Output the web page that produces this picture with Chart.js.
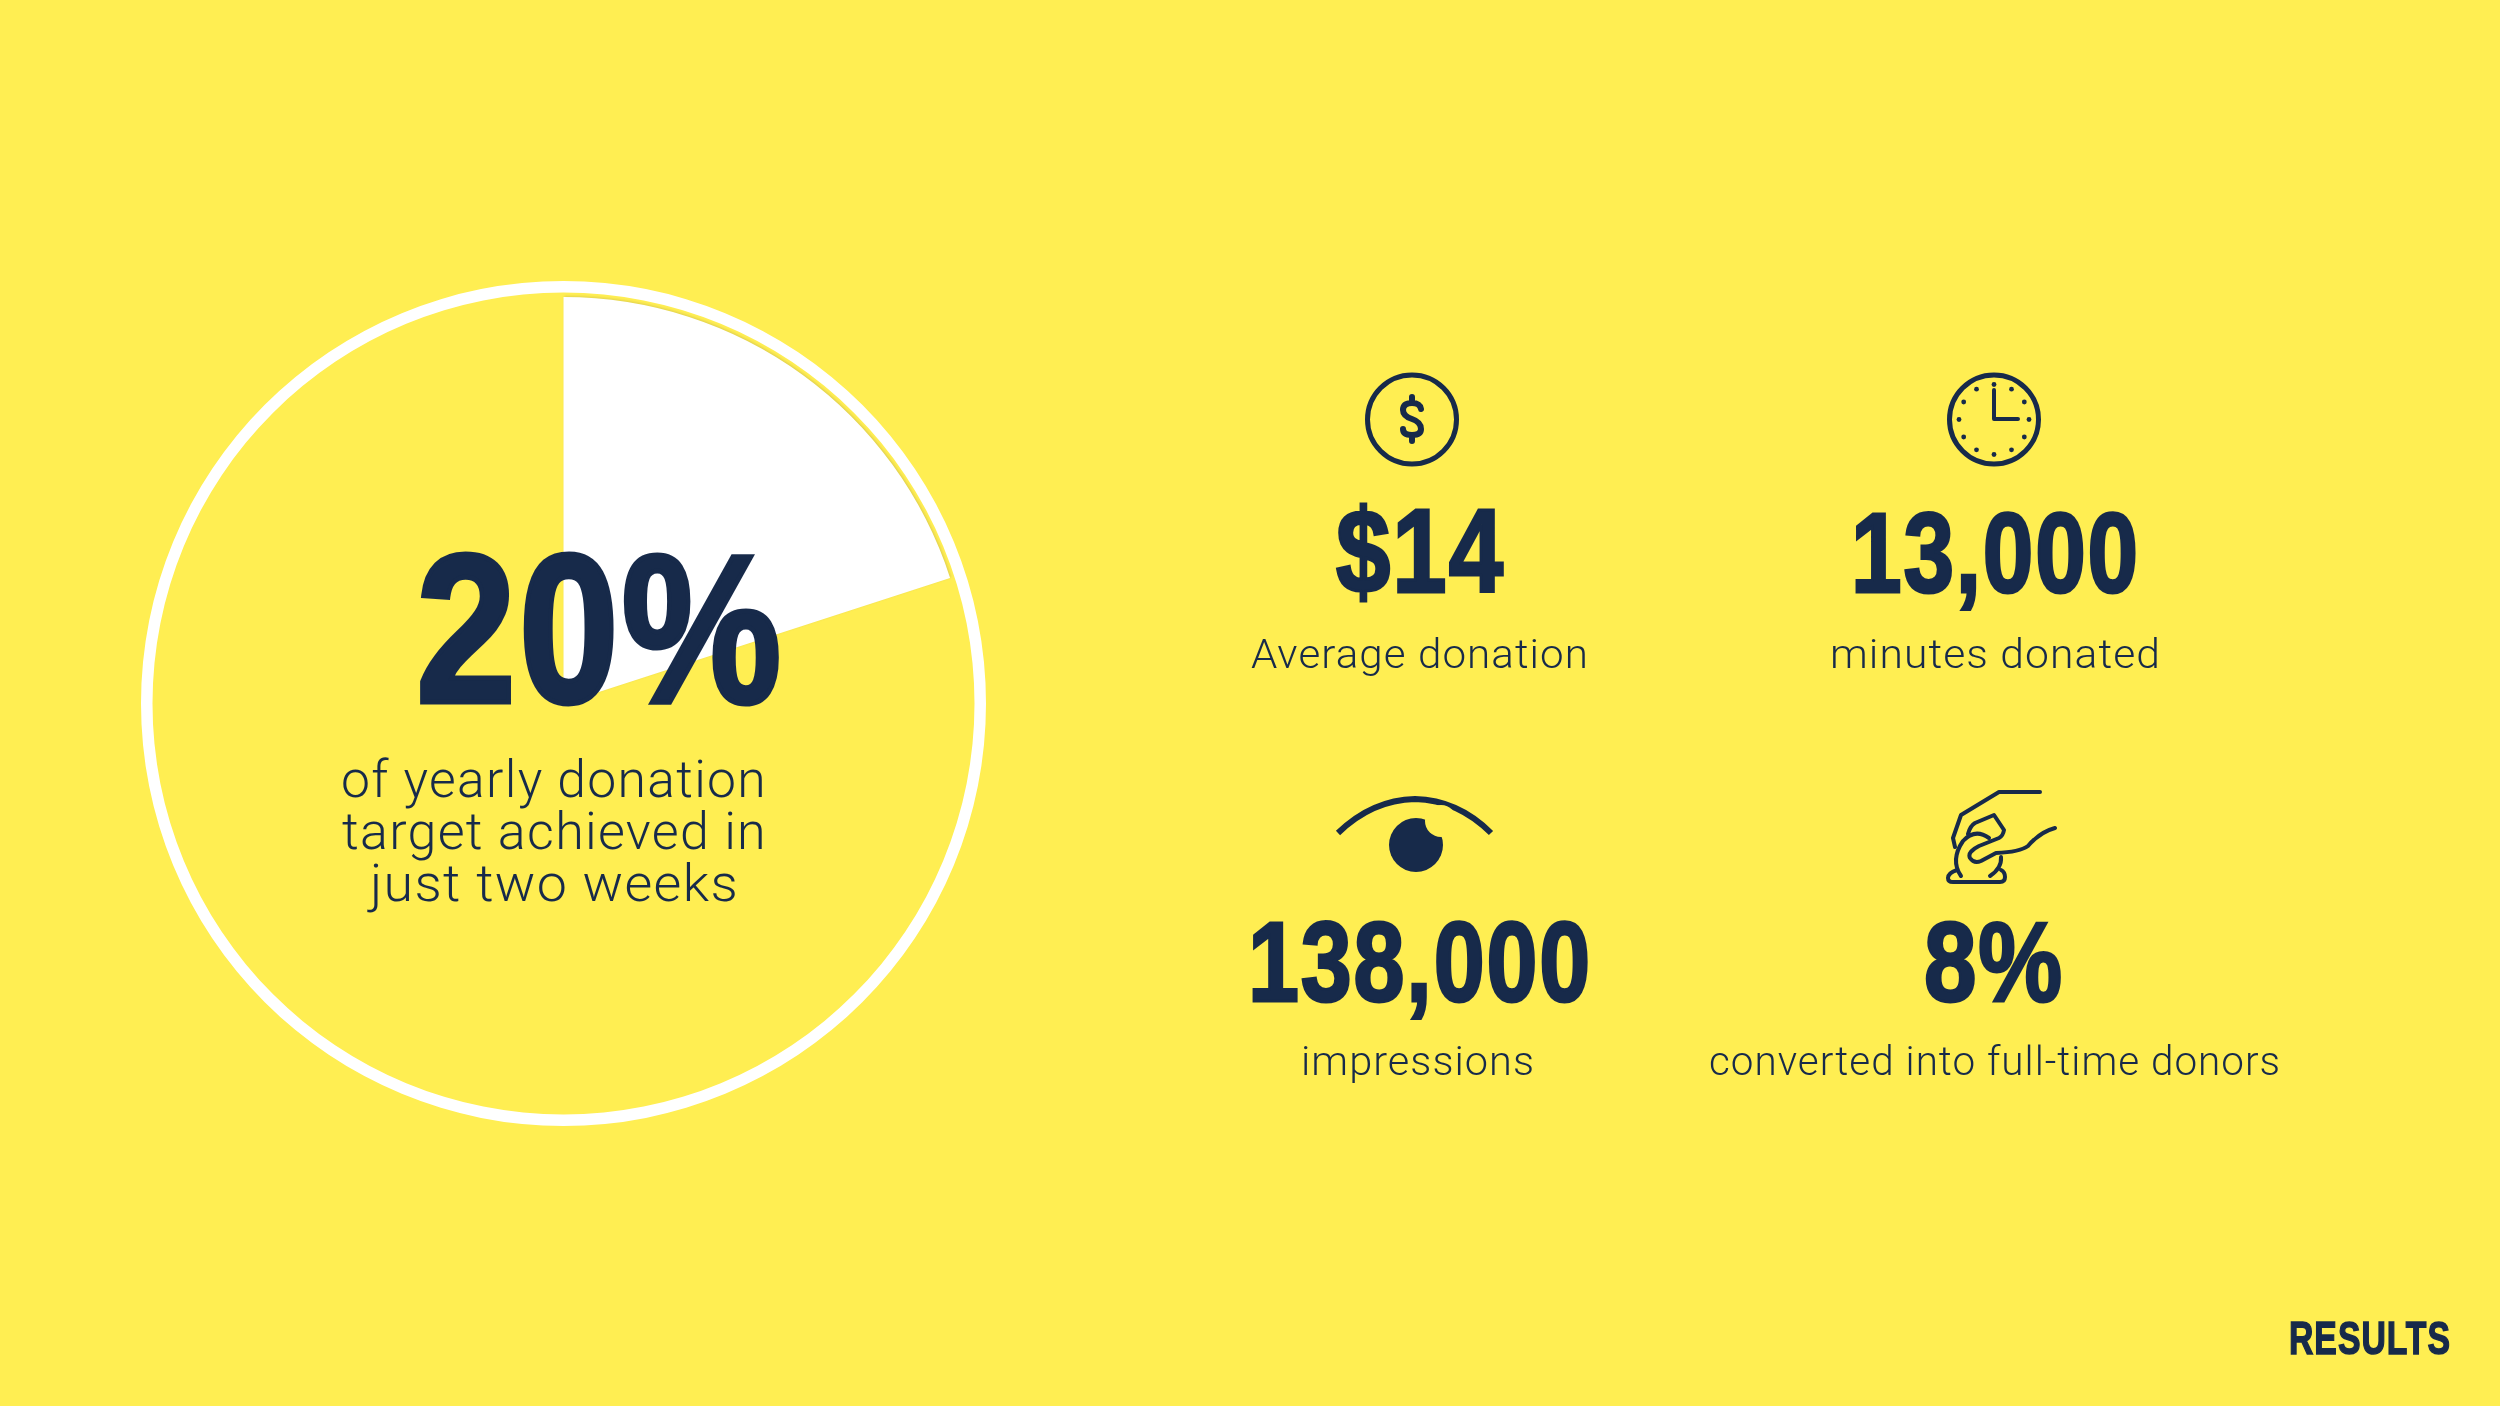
<!DOCTYPE html>
<html><head><meta charset="utf-8">
<script src="https://cdn.jsdelivr.net/npm/chart.js@4"></script>
<style>
html,body{margin:0;padding:0;background:#FFEE52;overflow:hidden}
#stage{position:relative;width:2500px;height:1406px;background:#FFEE52}
canvas{position:absolute}
#pie{filter:drop-shadow(1px -1px 1px rgba(90,80,60,.18))}
.t{position:absolute;white-space:nowrap;color:#172A4A;line-height:1}
.big{font-family:"Liberation Sans Narrow","Liberation Sans",sans-serif;font-weight:700;transform-origin:0 0}
.thin{font-family:Roboto,sans-serif;font-weight:300;transform-origin:0 0;color:#172A4A;letter-spacing:.025em}
svg{position:absolute;left:0;top:0}
</style></head>
<body><div id="stage">
<div style="position:absolute;left:141px;top:281px;width:845px;height:845px"><canvas id="ring" width="845" height="845"></canvas></div>
<div style="position:absolute;left:157px;top:297px;width:813px;height:813px"><canvas id="pie" width="813" height="813"></canvas></div>
<svg width="2500" height="1406" fill="none" stroke="#172A4A" stroke-linecap="round" stroke-linejoin="round">
 <circle cx="1412" cy="419.5" r="44.5" stroke-width="5"/>
 <path d="M1421 409Q1420 403 1412 403Q1403 403 1403 410Q1403 416 1412 419Q1421 422 1421 429Q1421 435 1412 435Q1403 435 1403 429M1412 397V403M1412 435V441" stroke-width="6"/>
 <circle cx="1994" cy="419.5" r="44.5" stroke-width="5"/>
 <path d="M1994 390V419H2018" stroke-width="4"/>
 <g id="dots"></g>
 <path d="M1338 833Q1372 800 1415 799Q1458 800 1491 833" stroke-width="6" stroke-linecap="butt"/>
 <circle cx="1416" cy="845" r="27" fill="#172A4A" stroke="none"/>
 <circle cx="1441" cy="821" r="16" fill="#FFEE52" stroke="none"/>
 <g stroke-width="4">
 <path d="M2040 792H1999L1961 815L1953 838L1955 847"/>
 <path d="M1968 834Q1970 826 1975 823L1994 815L2004 830Q2003 836 1999 838L1979 846Q1967 852 1970 858Q1974 864 1981 861L1996 853Q2020 852 2028 846Q2040 832 2055 828"/>
 <path d="M1989 838Q1975 828 1963 841Q1950 860 1961 876M2001 857Q2002 868 1990 876"/>
 <path d="M1957 870Q1948 873 1948 878Q1948 882 1953 882H2000Q2005 882 2005 877Q2005 872 2001 870"/>
 </g>
</svg>
<div id="texts"></div>
</div>
<script>
const shareLabels = ["Achieved", "Remaining"];
const shareValues = [20, 80];
const ringValues = [100];
const statValues = ["$14", "13,000", "138,000", "8%"];
const statLabels = ["Average donation", "minutes donated", "impressions", "converted into full-time donors"];
const headline = "20%";
const headlineLines = ["of yearly donation", "target achieved in", "just two weeks"];
const footer = "RESULTS";

Chart.defaults.animation = false;
new Chart(document.getElementById('ring'), {type:'doughnut',
  data:{labels:["Target"],datasets:[{data:ringValues,backgroundColor:['#FFFFFF'],borderWidth:0}]},
  options:{responsive:false,cutout:411,plugins:{legend:{display:false},tooltip:{enabled:false}},layout:{padding:0}}});
new Chart(document.getElementById('pie'), {type:'pie',
  data:{labels:shareLabels,datasets:[{data:shareValues,backgroundColor:['#FFFFFF','rgba(0,0,0,0)'],borderWidth:0}]},
  options:{responsive:false,plugins:{legend:{display:false},tooltip:{enabled:false}},layout:{padding:0}}});

const svgNS='http://www.w3.org/2000/svg', dots=document.getElementById('dots');
for(let i=0;i<12;i++){const a=i*Math.PI/6,c=document.createElementNS(svgNS,'circle');
  c.setAttribute('cx',1994+35*Math.cos(a));c.setAttribute('cy',419.5+35*Math.sin(a));c.setAttribute('r',2.4);
  c.setAttribute('fill','#172A4A');c.setAttribute('stroke','none');dots.appendChild(c);}

function place(cls,str,x0,x1,base,size,stroke,ls){
  const d=document.createElement('div');d.className='t '+cls;d.textContent=str;d.style.fontSize=size+'px';
  if(stroke)d.style.webkitTextStroke=stroke+'px #172A4A';
  if(ls)d.style.letterSpacing=ls+'em';
  document.getElementById('texts').appendChild(d);
  const w=d.getBoundingClientRect().width;
  const ctx=document.createElement('canvas').getContext('2d');
  const cs=getComputedStyle(d);ctx.font=cs.fontWeight+' '+size+'px '+cs.fontFamily;
  const m=ctx.measureText('x');
  const asc=(m.fontBoundingBoxAscent+m.fontBoundingBoxDescent-size)/2*-1+m.fontBoundingBoxAscent;
  const sx=(x1-x0)/w;
  d.style.left=x0+'px';d.style.top=(base-asc)+'px';d.style.transform='scaleX('+sx+')';
}
place('big',headline,416,784,702,212,5,.015);
place('thin',headlineLines[0],341,767,797,52);
place('thin',headlineLines[1],342,767,849,52);
place('thin',headlineLines[2],370,739,901,52);
place('big',statValues[0],1336,1505,592,118,3,.02);
place('big',statValues[1],1851,2140,592,114,3,.02);
place('big',statValues[2],1248,1592,1001,114,3,.02);
place('big',statValues[3],1924,2064,1001,114,3,.02);
place('thin',statLabels[0],1251,1589,668,41);
place('thin',statLabels[1],1830,2161,668,41);
place('thin',statLabels[2],1301,1535,1075,41);
place('thin',statLabels[3],1709,2281,1075,41);
place('big',footer,2289,2451,1354,46,1.5,.03);
</script>
</body></html>
